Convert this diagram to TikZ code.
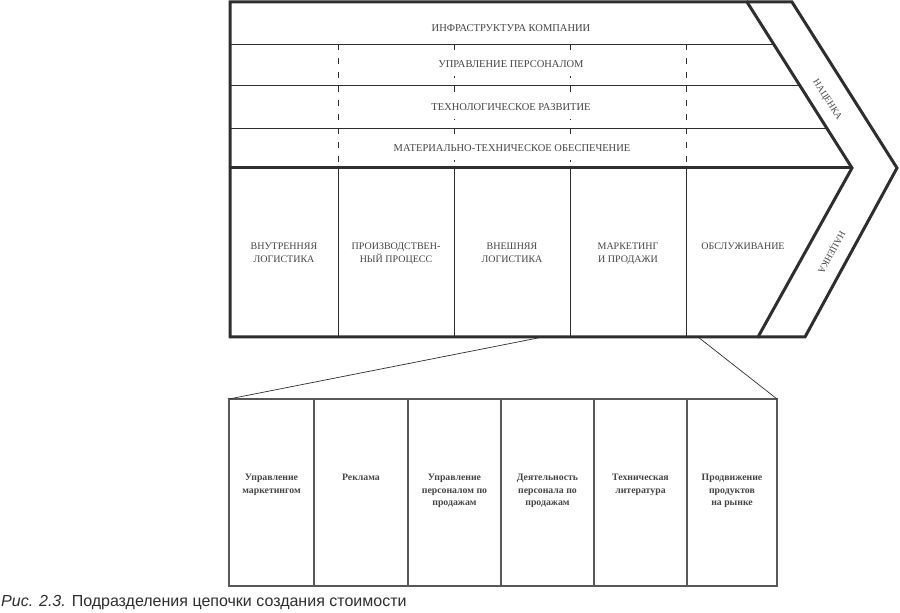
\documentclass[tikz,border=0pt]{standalone}
\usepackage{fontspec}
\usepackage{xcolor}
\setmainfont{Liberation Serif}
\newfontfamily\captionfont{Liberation Sans}

\definecolor{ink}{HTML}{2E2E2E}
\definecolor{txt}{HTML}{454545}

\begin{document}
\begin{tikzpicture}[
  x=1pt, y=1pt,
  frame/.style = {draw=ink, line width=3pt, line join=miter},
  divider/.style = {draw=ink, line width=0.9pt},
  gapline/.style = {draw=ink, line width=0.9pt, dash pattern=on 6pt off 8pt},
  cellline/.style = {draw=ink!80, line width=1.1pt},
  support/.style = {text=txt, fill=white, inner xsep=2pt, inner ysep=8pt, font=\fontsize{10.5}{12}\selectfont},
  primary/.style = {text=txt, inner sep=0, anchor=north, align=center, font=\fontsize{10}{13}\selectfont},
  margin/.style = {text=txt, inner sep=0, font=\fontsize{9.5}{11}\selectfont},
  detail/.style = {text=txt, inner sep=0, anchor=north, align=center, font=\bfseries\fontsize{9.8}{12.4}\selectfont}
]
\useasboundingbox (0,0) rectangle (900,613);

% corners of the chain
\coordinate (topL) at (230,611);
\coordinate (topM) at (747,611);
\coordinate (topR) at (792,611);
\coordinate (tipIn) at (852,445);
\coordinate (tipOut) at (897,445);
\coordinate (botL) at (230,276);
\coordinate (botM) at (758,276);
\coordinate (botR) at (805,276);

% support rows
\draw[divider] (230,569) -- (773.6,569);
\draw[divider] (230,528) -- (799.5,528);
\draw[divider] (230,485) -- (826.7,485);

\draw[gapline] (338,569) -- (338,445);
\draw[gapline] (454,569) -- (454,445);
\draw[gapline] (570,569) -- (570,445);
\draw[gapline] (686,569) -- (686,445);

% primary columns
\draw[divider] (338,445) -- (338,276);
\draw[divider] (454,445) -- (454,276);
\draw[divider] (570,445) -- (570,276);
\draw[divider] (686,445) -- (686,276);

\draw[frame] (topL) -- (topM) -- (tipIn) -- (botM) -- (botL) -- cycle;
\draw[frame] (topM) -- (topR) -- (tipOut) -- (botR) -- (botM);
\draw[frame] (botL |- tipIn) -- (tipIn);

\node[support] (infra) at (511,585) {ИНФРАСТРУКТУРА КОМПАНИИ};
\node[support] (hr) at (511,549) {УПРАВЛЕНИЕ ПЕРСОНАЛОМ};
\node[support] (tech) at (511,506) {ТЕХНОЛОГИЧЕСКОЕ РАЗВИТИЕ};
\node[support] (procure) at (512,465) {МАТЕРИАЛЬНО-ТЕХНИЧЕСКОЕ ОБЕСПЕЧЕНИЕ};

\node[primary] (inlog) at (284,370) {ВНУТРЕННЯЯ\\ЛОГИСТИКА};
\node[primary] (ops) at (396,370) {ПРОИЗВОДСТВЕН-\\НЫЙ ПРОЦЕСС};
\node[primary] (outlog) at (512,370) {ВНЕШНЯЯ\\ЛОГИСТИКА};
\node[primary] (sales) at (628,370) {МАРКЕТИНГ\\И ПРОДАЖИ};
\node[primary] (service) at (743,370) {ОБСЛУЖИВАНИЕ};

\node[margin, rotate=-57.7] (markupA) at (827,513) {НАЦЕНКА};
\node[margin, rotate=-119] (markupB) at (831,361) {НАЦЕНКА};

% breakdown of marketing and sales
\coordinate (subNW) at (229,214);
\coordinate (subNE) at (777,214);
\coordinate (fromL) at (543,276);
\coordinate (fromR) at (698,276);

\draw[cellline] (229,27) rectangle (777,214);
\draw[cellline] (314,27) -- (314,214);
\draw[cellline] (408,27) -- (408,214);
\draw[cellline] (501,27) -- (501,214);
\draw[cellline] (594,27) -- (594,214);
\draw[cellline] (687,27) -- (687,214);

\draw[ink, line width=0.7pt] (subNW) -- (fromL);
\draw[ink, line width=0.7pt] (subNE) -- (fromR);

\node[detail] (mgmt) at (271.5,139) {Управление\\маркетингом};
\node[detail] (ads) at (361,139) {Реклама};
\node[detail] (salesmgmt) at (454.5,139) {Управление\\персоналом по\\продажам};
\node[detail] (salesforce) at (547.5,139) {Деятельность\\персонала по\\продажам};
\node[detail] (lit) at (640.5,139) {Техническая\\литература};
\node[detail] (promo) at (732,139) {Продвижение\\продуктов\\на рынке};

\node[anchor=base west, inner sep=0, text=ink, font=\captionfont\fontsize{16}{19}\selectfont] (caption) at (1,6)
  {\itshape Рис. 2.3.\upshape{} Подразделения цепочки создания стоимости};
\end{tikzpicture}
\end{document}
